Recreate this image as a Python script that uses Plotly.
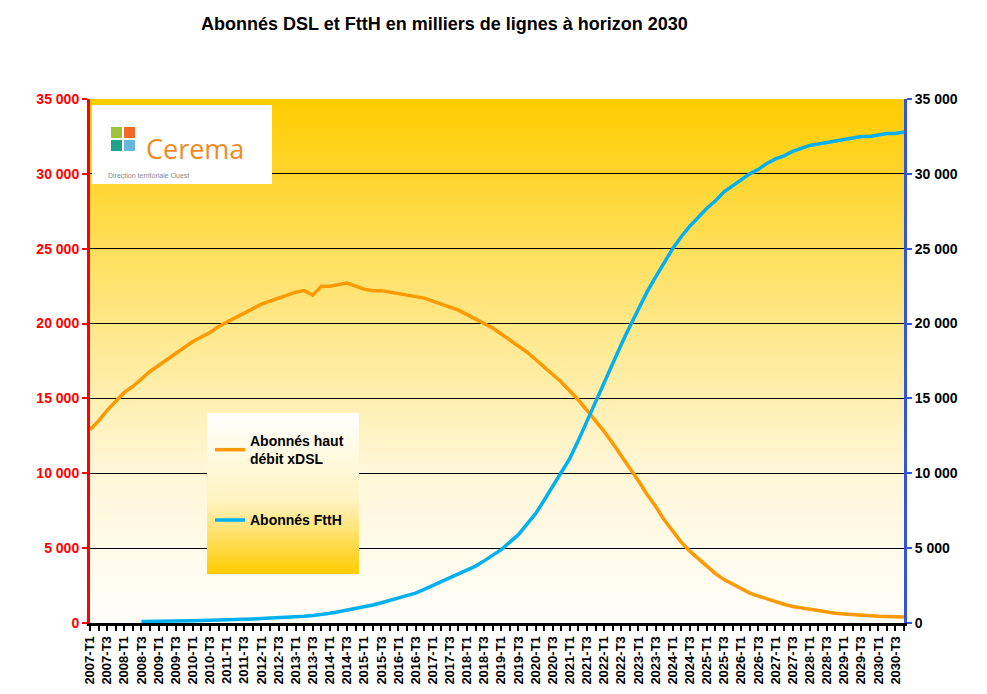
import plotly.graph_objects as go
import zlib, struct, base64

years = list(range(2007, 2031))
quarters = [f"{y}-T{q}" for y in years for q in (1, 2, 3, 4)]

dsl = [12.9, 13.5, 14.2, 14.8, 15.4, 15.8, 16.3, 16.8, 17.2, 17.6, 18.0, 18.4,
       18.8, 19.1, 19.4, 19.8, 20.1, 20.4, 20.7, 21.0, 21.3, 21.5, 21.7, 21.9,
       22.1, 22.2, 21.9, 22.5, 22.5, 22.6, 22.7, 22.5, 22.3, 22.2, 22.2, 22.1,
       22.0, 21.9, 21.8, 21.7, 21.5, 21.3, 21.1, 20.9, 20.6, 20.3, 20.0, 19.7,
       19.3, 18.9, 18.5, 18.1, 17.6, 17.1, 16.6, 16.1, 15.5, 14.9, 14.2, 13.5,
       12.8, 12.0, 11.2, 10.3, 9.5, 8.6, 7.8, 6.9, 6.1, 5.4, 4.8, 4.3,
       3.8, 3.3, 2.9, 2.6, 2.3, 2.0, 1.8, 1.6, 1.4, 1.25, 1.1, 1.0,
       0.9, 0.8, 0.72, 0.65, 0.6, 0.55, 0.5, 0.48, 0.45, 0.43, 0.41, 0.4]
ftth = [None, None, None, None, None, None, 0.1, 0.1, 0.1, 0.1, 0.12, 0.13,
        0.15, 0.16, 0.17, 0.18, 0.2, 0.22, 0.25, 0.27, 0.3, 0.32, 0.35, 0.38,
        0.4, 0.45, 0.5, 0.55, 0.65, 0.75, 0.85, 0.95, 1.1, 1.2, 1.35, 1.5,
        1.7, 1.85, 2.0, 2.25, 2.5, 2.75, 3.0, 3.25, 3.5, 3.8, 4.15, 4.5,
        4.9, 5.4, 5.9, 6.6, 7.3, 8.2, 9.1, 10.0, 11.0, 12.2, 13.5, 14.8,
        16.0, 17.3, 18.6, 19.8, 21.0, 22.1, 23.1, 24.1, 25.0, 25.8, 26.5, 27.1,
        27.7, 28.2, 28.8, 29.2, 29.6, 30.0, 30.3, 30.7, 31.0, 31.2, 31.5, 31.7,
        31.9, 32.0, 32.1, 32.2, 32.3, 32.4, 32.5, 32.5, 32.6, 32.7, 32.7, 32.8]
dsl = [v * 1000 for v in dsl]
ftth = [None if v is None else v * 1000 for v in ftth]

yticks = list(range(0, 35001, 5000))
ytext = [f"{v:,}".replace(",", " ") for v in yticks]
xidx = list(range(len(quarters)))


def grad_png(stops, n=200):
    """vertical gradient PNG (1 x n), stops: list of (pos 0=top..1=bottom, (r,g,b))"""
    rows = b""
    for i in range(n):
        t = i / (n - 1)
        for (p0, c0), (p1, c1) in zip(stops, stops[1:]):
            if p0 <= t <= p1:
                f = (t - p0) / (p1 - p0) if p1 > p0 else 0
                c = [round(a + (b - a) * f) for a, b in zip(c0, c1)]
                break
        rows += b"\x00" + bytes(c)
    def chunk(tag, data):
        return struct.pack(">I", len(data)) + tag + data + struct.pack(">I", zlib.crc32(tag + data) & 0xffffffff)
    png = b"\x89PNG\r\n\x1a\n" + chunk(b"IHDR", struct.pack(">IIBBBBB", 1, n, 8, 2, 0, 0, 0)) \
        + chunk(b"IDAT", zlib.compress(rows)) + chunk(b"IEND", b"")
    return "data:image/png;base64," + base64.b64encode(png).decode()


bg = grad_png([(0, (255, 204, 0)), (0.4, (255, 230, 128)), (0.7, (255, 246, 214)), (1, (255, 254, 250))])
lg = grad_png([(0, (255, 255, 255)), (0.55, (255, 243, 192)), (1, (255, 204, 0))])

fig = go.Figure()
fig.add_trace(go.Scatter(x=xidx, y=dsl, name="Abonnés haut<br>débit xDSL", mode="lines",
                         legendgroup="a", line=dict(color="#FF9900", width=3.5)))
fig.add_trace(go.Scatter(x=xidx, y=ftth, name="Abonnés FttH", mode="lines", yaxis="y2",
                         legendgroup="b", line=dict(color="#00B0F0", width=3.5)))

PX = lambda px: (px - 88) / 814
PY = lambda py: (622 - py) / 524

fig.update_layout(
    width=987, height=694, margin=dict(l=82, r=91, t=91, b=79),
    paper_bgcolor="white", plot_bgcolor="rgba(0,0,0,0)",
    font=dict(family="Liberation Sans, Arial", size=12, color="black"),
    xaxis=dict(range=[0, 95], tickmode="array", tickvals=xidx[::2], ticktext=quarters[::2],
               tickangle=-90, tickfont=dict(size=13, weight="bold"),
               showgrid=False, showline=True, linecolor="black", linewidth=3,
               ticks="outside", ticklen=5, tickwidth=2, tickcolor="black",
               minor=dict(dtick=1, tick0=0, ticks="outside", ticklen=5, tickwidth=2, tickcolor="black"),
               zeroline=False),
    yaxis=dict(range=[0, 35000], tickvals=yticks, ticktext=ytext, showgrid=True, gridcolor="black",
               gridwidth=1, showline=True, linecolor="#FF0000", linewidth=3, ticks="outside",
               tickcolor="#FF0000", ticklen=5, tickwidth=2,
               tickfont=dict(color="#FF0000", size=14, weight="bold"), zeroline=False),
    yaxis2=dict(range=[0, 35000], overlaying="y", side="right", tickvals=yticks, ticktext=ytext,
                showgrid=False, showline=True, linecolor="#3355DD", linewidth=3, ticks="outside",
                tickcolor="#3355DD", ticklen=5, tickwidth=2,
                tickfont=dict(color="black", size=14, weight="bold"), zeroline=False),
    legend=dict(x=PX(208), y=PY(424), xanchor="left", yanchor="top",
                bgcolor="rgba(0,0,0,0)", font=dict(size=14, weight="bold"),
                tracegroupgap=40, itemwidth=30),
    showlegend=True,
    images=[
        dict(source=bg, xref="paper", yref="paper", x=0, y=1, sizex=1, sizey=1,
             sizing="stretch", layer="below", xanchor="left", yanchor="top"),
        dict(source=lg, xref="paper", yref="paper", x=PX(205), y=PY(412), sizex=PX(357) - PX(205),
             sizey=PY(412) - PY(573), sizing="stretch", layer="above", xanchor="left", yanchor="top"),
    ],
    shapes=[dict(type="rect", xref="paper", yref="paper", x0=PX(90), x1=PX(270),
                 y0=PY(183), y1=PY(104), fillcolor="white", line=dict(width=0), layer="above")],
    annotations=[
        dict(text="<b>Abonnés DSL et FttH en milliers de lignes à horizon 2030</b>", x=PX(442), y=PY(11),
             xref="paper", yref="paper", showarrow=False, font=dict(size=18)),
        dict(text="Cerema", x=PX(142), y=PY(127), xref="paper", yref="paper",
             xanchor="left", showarrow=False, font=dict(size=27, color="#F08A24", family="Open Sans")),
        dict(text="Direction territoriale Ouest", x=PX(104), y=PY(169), xref="paper", yref="paper",
             xanchor="left", showarrow=False, font=dict(size=7, color="#888888")),
    ],
)
for dx, dy, c in [(0, 0, "#9DC33B"), (13, 0, "#F06A2A"), (0, 13, "#1FA38C"), (13, 13, "#6BB7D9")]:
    fig.add_shape(type="rect", xref="paper", yref="paper",
                  x0=PX(109 + dx), x1=PX(120 + dx), y0=PY(137 + dy), y1=PY(126 + dy),
                  fillcolor=c, line=dict(width=0), layer="above")
fig.write_html("out.html")
